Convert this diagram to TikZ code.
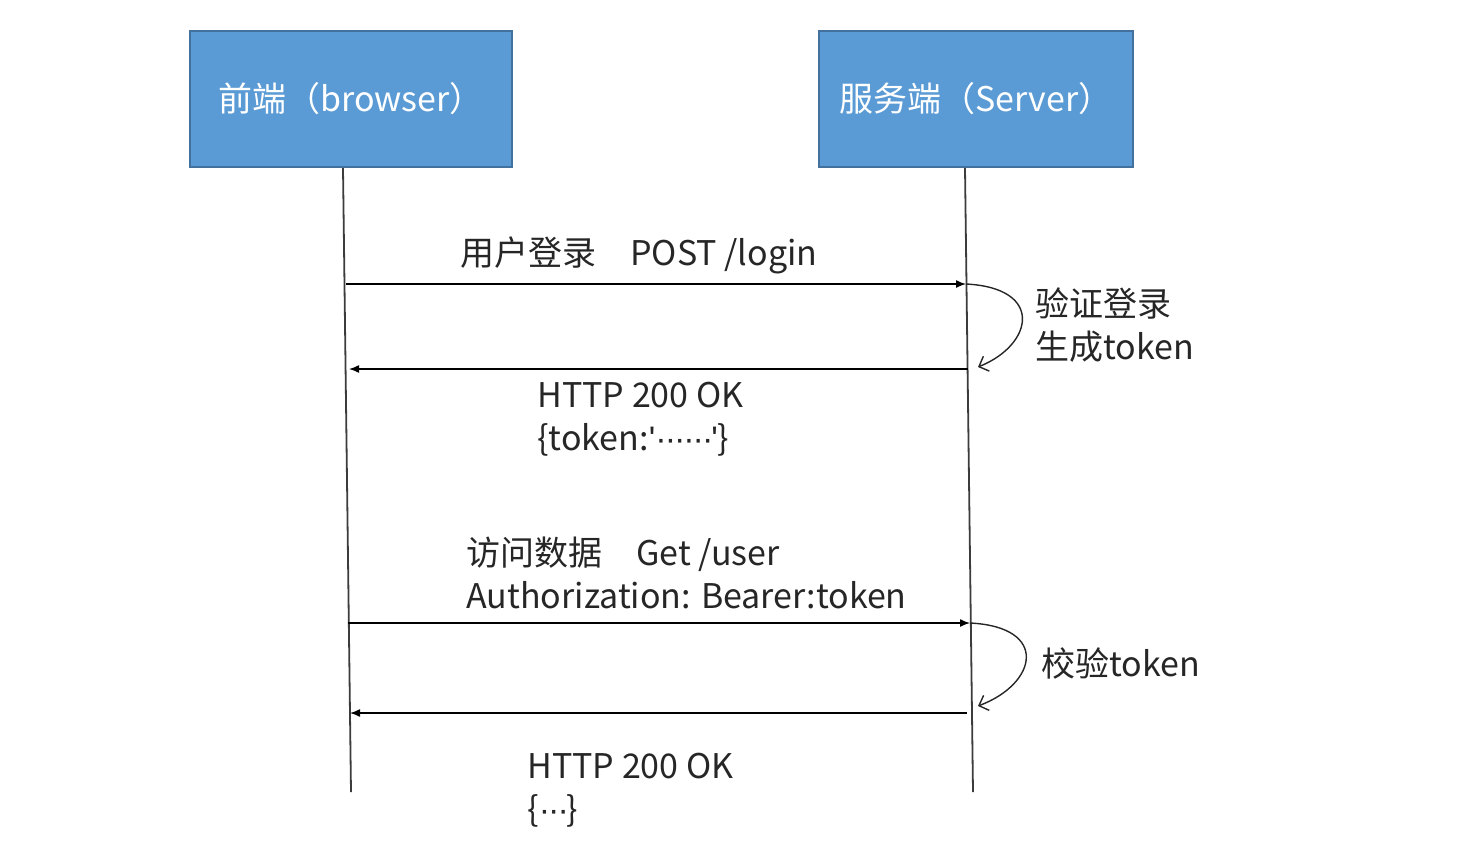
\documentclass[tikz,border=0pt]{standalone}
\usepackage{fontspec}
\setmainfont{Noto Sans CJK SC}
\newfontfamily\latinfont{Liberation Sans}
\usetikzlibrary{arrows.meta}
\definecolor{boxblue}{HTML}{5B9BD5}
\definecolor{boxborder}{HTML}{41719C}
\definecolor{ink}{HTML}{262626}
\newcommand{\tokdots}[1]{{\latinfont\foreach \i in {1,...,#1}{\textperiodcentered\kern-1pt}}}

\begin{document}
\begin{tikzpicture}[x=0.5pt,y=-0.5pt,
    actor/.style={draw=boxborder, line width=0.8pt, fill=boxblue, minimum width=161pt, minimum height=68pt, text=white, font=\fontsize{17}{20}\selectfont},
    lifeline/.style={draw=ink!90, line width=0.9pt},
    msg/.style={draw=black, line width=0.7pt, -{Latex[length=5pt,width=4pt]}},
    selfmsg/.style={draw=ink, line width=0.7pt, -{Straight Barb[length=4pt,width=8pt]}},
    lbl/.style={anchor=west, align=left, inner sep=0pt, text=ink, font=\fontsize{17}{21.5}\selectfont}]

    \useasboundingbox (0,0) rectangle (1468,852);

    % participants
    \node[actor, minimum width=161pt] (browser) at (351,99) {前端（browser）};
    \node[actor, minimum width=157pt] (server) at (976,99) {服务端（Server）};

    % lifelines
    \coordinate (bt) at (343,168); \coordinate (bb) at (351,792);
    \coordinate (st) at (965,168); \coordinate (sb) at (973,792);
    \draw[lifeline] (bt) -- (bb);
    \draw[lifeline] (st) -- (sb);

    % message end points
    \coordinate (login1) at (346,284); \coordinate (login2) at (966,284);
    \coordinate (ok1) at (968,369); \coordinate (ok2) at (349,369);
    \coordinate (user1) at (348,623); \coordinate (user2) at (970,623);
    \coordinate (data1) at (967,713); \coordinate (data2) at (350,713);
    \coordinate (check1) at (978,367);
    \coordinate (check2) at (978,706);

    % messages
    \draw[msg] (login1) -- (login2);
    \draw[msg] (ok1) -- (ok2);
    \draw[msg] (user1) -- (user2);
    \draw[msg] (data1) -- (data2);
    \draw[selfmsg] (login2) .. controls (1045,288) and (1033,345) .. (check1);
    \draw[selfmsg] (user2) .. controls (1050,627) and (1037,684) .. (check2);

    % labels
    \node[lbl] (loginlbl) at (460,255) {用户登录\quad POST /login};
    \node[lbl] (oklbl) at (537,419) {HTTP 200 OK\\\{token:{\latinfont'}\tokdots{6}{\latinfont'}\}};
    \node[lbl] (genlbl) at (1035,325) {验证登录\\生成token};
    \node[lbl] (userlbl) at (466,573) {访问数据\quad Get /user\\Authorization: Bearer:token};
    \node[lbl] (checklbl) at (1041,663) {校验token};
    \node[lbl] (datalbl) at (527,790) {HTTP 200 OK\\\{\tokdots{3}\}};

\end{tikzpicture}
\end{document}
